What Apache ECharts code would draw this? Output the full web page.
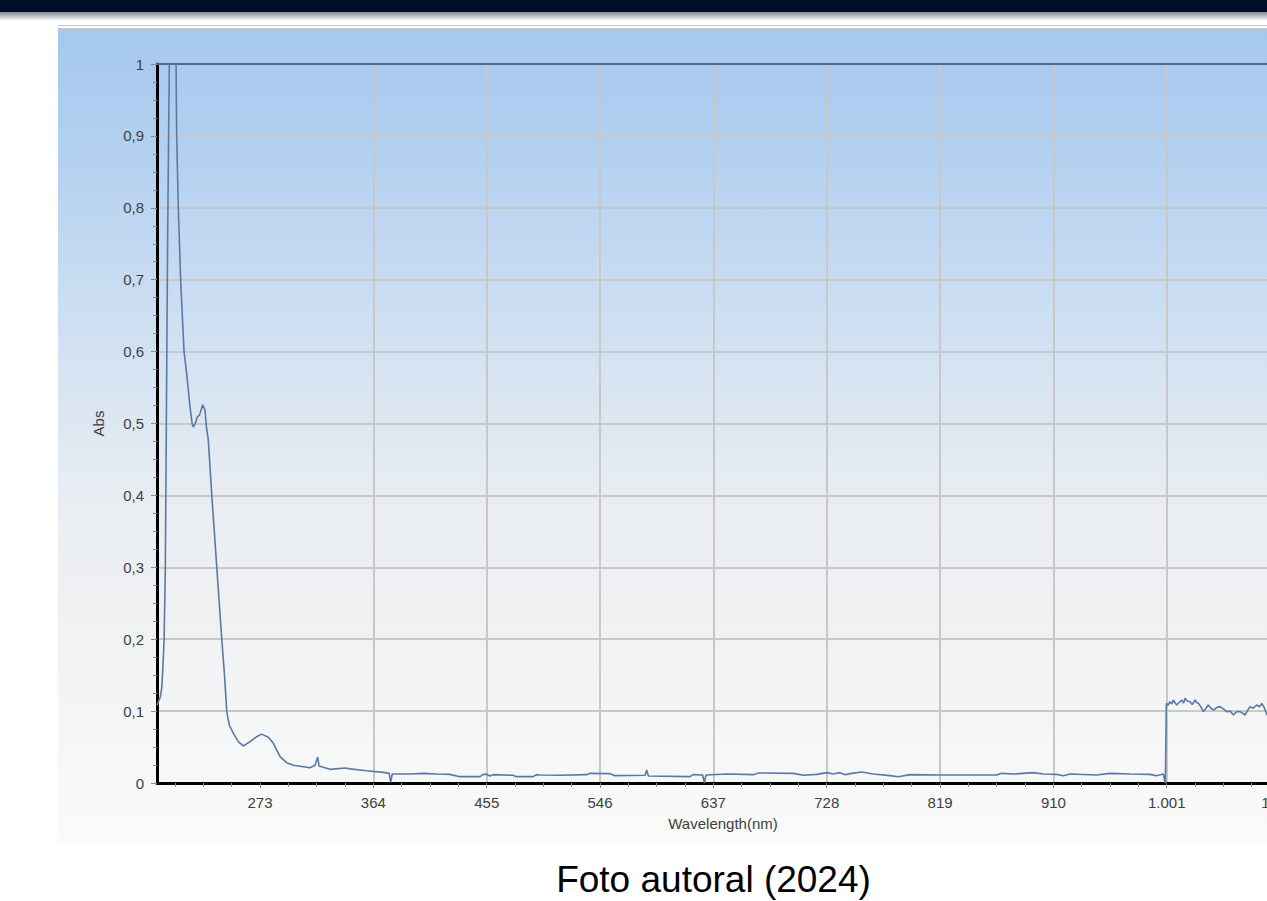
<!DOCTYPE html>
<html><head><meta charset="utf-8">
<script src="https://cdn.jsdelivr.net/npm/echarts@6/dist/echarts.min.js"></script>
<style>
html,body{margin:0;padding:0;width:1267px;height:901px;overflow:hidden;background:#fff;}
#band{position:absolute;left:0;top:0;width:1267px;height:12px;background:#000f27;}
#shadow{position:absolute;left:0;top:12px;width:1267px;height:9px;background:linear-gradient(#85898f,#ffffff);}
#line1{position:absolute;left:58px;top:25px;width:1209px;height:1px;background:#c4c4c4;}
#line2{position:absolute;left:58px;top:28px;width:1209px;height:2px;background:#bfc3c7;}
#shot{position:absolute;left:58px;top:30px;width:1209px;height:812px;
  background:linear-gradient(to bottom,#a5c8ee 0%,#b3d0f0 15%,#d3e2f2 40%,#e9edf2 58%,#f1f2f3 75%,#fafafa 100%);}
#chart{position:absolute;left:0;top:0;width:1400px;height:901px;}
#caption{position:absolute;left:0;top:865px;width:1427px;text-align:center;
  font-family:Arial,"Liberation Sans",sans-serif;font-size:37px;line-height:30px;color:#000;white-space:nowrap;}
</style></head>
<body>
<div id="band"></div><div id="shadow"></div>
<div id="line1"></div><div id="line2"></div>
<div id="shot"></div>
<div id="chart"></div>
<div id="caption">Foto autoral (2024)</div>
<script>
// Wavelength (nm)
const wavelength = [
 190.3,191.5,193,194.1,195,196,197,197.6,198.2,198.8,
 199.5,200.2,201.5,203,204.5,205.6,206.1,207.4,209.3,212,
 214.1,216.8,218.5,219.5,221,222.7,224.5,227,228.8,230,
 231.5,234.3,236.3,238.3,242.3,244.5,246.3,246.8,248.5,251.6,
 255.6,259.6,265,270.3,274.4,279.7,283.7,289.1,294.4,299.7,
 307.8,313.1,317.2,319.3,320.4,329.2,341.2,345.3,358.6,372,
 376.8,377.9,379.2,393.4,404,414.9,425.4,433.5,449.6,452.3,
 455,457.6,460.3,476.2,478.9,492.3,495,497.8,513.9,535.3,
 538,554,558,582.1,583.5,584.8,618.1,620.9,628.4,629.7,
 631.1,647.7,669.1,673.1,701.2,709.2,720,728,733.3,738.7,
 742.7,748.1,756.1,765.4,778.8,785.5,794.9,819,837.7,864.5,
 868.5,877.8,893.9,901.9,912.7,918,923.4,944.8,955.4,971.5,
 987.5,992.9,998.2,999.9,1000.7,1002,1003.6,1005,1006.3,1007.5,
 1009,1011,1013,1014.5,1015.7,1017.5,1019.7,1021.5,1023.7,1025,
 1026.4,1028.3,1030.4,1032.5,1034.4,1036.5,1038.5,1041,1043.8,1046.5,
 1049.2,1052,1054.5,1057,1059.9,1062,1063.9,1066,1067.9,1070.5,
 1073.2,1075.5,1077.3,1079.5,1081.5,1084,1087,1090
];
// Absorbance
const absorbance = [
 0.108,0.113,0.12,0.132,0.16,0.2,0.3,0.45,0.6,0.75,
 0.88,1.0,1.15,1.22,1.13,1.0,0.9,0.8,0.7,0.6,
 0.57,0.523,0.5,0.495,0.5,0.509,0.512,0.526,0.519,0.495,
 0.477,0.4,0.35,0.3,0.2,0.15,0.1,0.094,0.08,0.069,
 0.0575,0.0515,0.0575,0.0644,0.068,0.0636,0.0552,0.0366,0.0283,0.0246,
 0.0227,0.0213,0.0246,0.036,0.0236,0.019,0.0209,0.0196,0.0171,0.0148,
 0.0134,0.0009,0.0125,0.0125,0.0134,0.0125,0.012,0.0088,0.0088,0.012,
 0.0121,0.0098,0.0116,0.0107,0.0088,0.0088,0.0116,0.0111,0.0107,0.0116,
 0.0134,0.013,0.0102,0.0107,0.018,0.0097,0.0088,0.0116,0.0111,0.0,
 0.0111,0.0125,0.0116,0.0139,0.0134,0.0107,0.012,0.0144,0.0125,0.0144,
 0.0116,0.0134,0.0153,0.0125,0.0102,0.0088,0.0116,0.0111,0.0111,0.0111,
 0.0134,0.0125,0.0144,0.0125,0.012,0.0102,0.0125,0.0111,0.0134,0.0125,
 0.012,0.0102,0.0125,0.0,0.111,0.108,0.113,0.110,0.1154,0.112,
 0.1085,0.112,0.1154,0.111,0.1178,0.114,0.113,0.109,0.1154,0.112,
 0.1108,0.1062,0.0992,0.104,0.1085,0.104,0.1015,0.105,0.1062,0.103,
 0.0992,0.1,0.0946,0.099,0.0992,0.097,0.0946,0.101,0.1062,0.104,
 0.1085,0.106,0.1108,0.104,0.0946,0.1,0.103,0.098
];
// Tick labels
const xTickValues = [273,364,455,546,637,728,819,910,1001,1092];
const yTickValues = [0,0.1,0.2,0.3,0.4,0.5,0.6,0.7,0.8,0.9,1];
const xTitle = 'Wavelength(nm)';
const yTitle = 'Abs';

const FONT = 'Arial, "Liberation Sans", sans-serif';
const data = wavelength.map((w, i) => [w, absorbance[i]]);
function fmtX(v){ v=Math.round(v); return v>=1000 ? Math.floor(v/1000)+'.'+String(v%1000).padStart(3,'0') : String(v); }
function fmtY(v){ if (Math.abs(v)<1e-9) return '0'; if (Math.abs(v-1)<1e-9) return '1'; return v.toFixed(1).replace('.', ','); }

const chart = echarts.init(document.getElementById('chart'), null, {renderer:'svg', width:1400, height:901});
const GL = 146.7, GR = 6.6, GT = 64, GB = 118;
chart.setOption({
  animation:false,
  backgroundColor:'transparent',
  grid:[
    {left:GL, right:GR, top:GT, bottom:GB, containLabel:false, outerBoundsMode:'none'},
    {left:157, right:GR, top:GT, bottom:GB, containLabel:false, outerBoundsMode:'none'}
  ],
  xAxis:[
    {gridIndex:0, type:'value', min:182, max:1183, interval:91,
     axisLine:{show:false},
     axisTick:{show:true, length:5, customValues:xTickValues, lineStyle:{color:'#8a8a8a', width:1}},
     minorTick:{show:true, splitNumber:4, length:4, lineStyle:{color:'#8a8a8a', width:1}},
     axisLabel:{customValues:xTickValues, formatter:fmtX, fontSize:15, fontFamily:FONT, color:'#404040', margin:12},
     splitLine:{show:true, showMinLine:false, lineStyle:{color:'#c8c8c8', width:2}}},
    {gridIndex:1, type:'value', min:190.3, max:1183,
     axisLine:{show:true, onZero:false, lineStyle:{color:'#000', width:3}},
     axisTick:{show:false}, axisLabel:{show:false}, splitLine:{show:false}},
    {gridIndex:1, type:'value', min:190.3, max:1183, position:'top',
     axisLine:{show:true, onZero:false, lineStyle:{color:'#4b6a8b', width:2}},
     axisTick:{show:false}, axisLabel:{show:false}, splitLine:{show:false}}
  ],
  yAxis:[
    {gridIndex:0, type:'value', min:0, max:1, show:false},
    {gridIndex:1, type:'value', min:0, max:1, interval:0.1,
     name:yTitle, nameLocation:'middle', nameGap:51, nameRotate:90,
     nameTextStyle:{fontSize:15, fontFamily:FONT, color:'#404040'},
     axisLine:{show:true, lineStyle:{color:'#000', width:3}},
     axisTick:{show:true, length:6, lineStyle:{color:'#8a8a8a', width:1}},
     minorTick:{show:true, splitNumber:4, length:4, lineStyle:{color:'#8a8a8a', width:1}},
     axisLabel:{formatter:fmtY, fontSize:15, fontFamily:FONT, color:'#404040', margin:13},
     splitLine:{show:true, lineStyle:{color:'#c8c8c8', width:2}}}
  ],
  graphic:[
    {type:'text', x:723, y:823, z:10,
     style:{text:xTitle, fill:'#404040', font:'15px ' + FONT, align:'center', verticalAlign:'middle'}}
  ],
  series:[
    {type:'line', xAxisIndex:1, yAxisIndex:1, data:data, showSymbol:false, clip:true,
     lineStyle:{color:'#5b79a7', width:1.6}}
  ]
});
</script>
</body></html>
